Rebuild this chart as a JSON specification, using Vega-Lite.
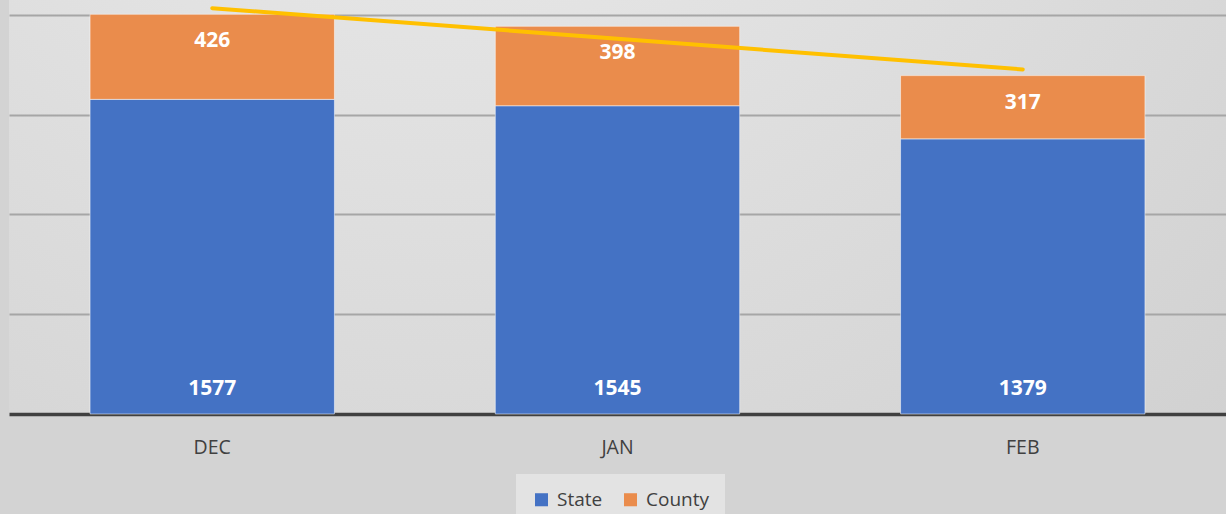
{
  "$schema": "https://vega.github.io/schema/vega-lite/v6.json",
  "width": 1217,
  "height": 414,
  "autosize": {"type": "none"},
  "padding": {"left": 9, "top": 0, "right": 0, "bottom": 100},
  "background": "#d3d3d3",
  "config": {
    "font": "Open Sans",
    "view": {
      "stroke": null,
      "fill": {
        "gradient": "radial",
        "x1": 0.35, "y1": 0, "r1": 0,
        "x2": 0.35, "y2": 0, "r2": 1.2,
        "stops": [
          {"offset": 0, "color": "#eeeeee"},
          {"offset": 1, "color": "#c9c9c9"}
        ]
      }
    }
  },
  "datasets": {
    "bars": [
      {"month": "DEC", "series": "State", "value": 1577},
      {"month": "DEC", "series": "County", "value": 426},
      {"month": "JAN", "series": "State", "value": 1545},
      {"month": "JAN", "series": "County", "value": 398},
      {"month": "FEB", "series": "State", "value": 1379},
      {"month": "FEB", "series": "County", "value": 317}
    ],
    "trend": [
      {"month": "DEC", "trend": 2034},
      {"month": "JAN", "trend": 1881},
      {"month": "FEB", "trend": 1727}
    ]
  },
  "layer": [
    {
      "data": {"name": "bars"},
      "mark": {"type": "bar", "stroke": "#ffffff", "strokeOpacity": 0.5, "strokeWidth": 1},
      "encoding": {
        "x": {
          "field": "month", "type": "nominal", "sort": ["DEC", "JAN", "FEB"],
          "scale": {"paddingInner": 0.397, "paddingOuter": 0.2},
          "axis": {
            "title": null, "labelAngle": 0, "ticks": false,
            "domainColor": "#404040", "domainWidth": 3.5,
            "labelFontSize": 19.5, "labelColor": "#404040",
            "labelBaseline": "middle", "labelPadding": 33
          }
        },
        "y": {
          "field": "value", "type": "quantitative", "aggregate": "sum", "stack": "zero",
          "scale": {"domain": [0, 2075], "nice": false},
          "axis": {
            "title": null, "labels": false, "ticks": false, "domain": false,
            "values": [500, 1000, 1500, 2000],
            "gridColor": "#a6a6a6", "gridWidth": 2
          }
        },
        "color": {
          "field": "series", "type": "nominal",
          "scale": {"domain": ["State", "County"], "range": ["#4472C4", "#EA8C4C"]},
          "legend": {
            "title": null, "orient": "none", "direction": "horizontal",
            "legendX": 507, "legendY": 474, "padding": 16,
            "fillColor": "#e3e3e3",
            "symbolType": "square", "symbolSize": 170, "symbolStrokeWidth": 0,
            "labelFontSize": 19, "labelColor": "#404040", "labelOffset": 6,
            "columnPadding": 18
          }
        },
        "order": {"field": "series", "sort": "descending"}
      }
    },
    {
      "data": {"name": "bars"},
      "transform": [{"filter": "datum.series === 'State'"}],
      "mark": {"type": "text", "color": "#ffffff", "fontWeight": "bold", "fontSize": 21, "dy": -25, "baseline": "middle"},
      "encoding": {
        "x": {"field": "month", "type": "nominal", "sort": ["DEC", "JAN", "FEB"]},
        "y": {"datum": 0, "type": "quantitative"},
        "text": {"field": "value", "type": "quantitative"}
      }
    },
    {
      "data": {"name": "bars"},
      "transform": [
        {"joinaggregate": [{"op": "sum", "field": "value", "as": "total"}], "groupby": ["month"]},
        {"filter": "datum.series === 'County'"}
      ],
      "mark": {"type": "text", "color": "#ffffff", "fontWeight": "bold", "fontSize": 21, "dy": 27, "baseline": "middle"},
      "encoding": {
        "x": {"field": "month", "type": "nominal", "sort": ["DEC", "JAN", "FEB"]},
        "y": {"field": "total", "type": "quantitative"},
        "text": {"field": "value", "type": "quantitative"}
      }
    },
    {
      "data": {"name": "trend"},
      "mark": {"type": "line", "color": "#FFC000", "strokeWidth": 4, "strokeCap": "round"},
      "encoding": {
        "x": {"field": "month", "type": "nominal", "sort": ["DEC", "JAN", "FEB"]},
        "y": {"field": "trend", "type": "quantitative"}
      }
    }
  ]
}
